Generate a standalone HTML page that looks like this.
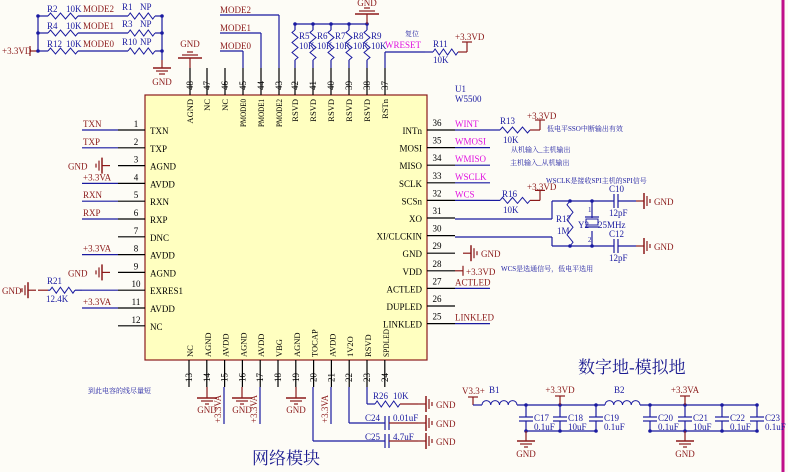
<!DOCTYPE html>
<html><head><meta charset="utf-8"><style>
html,body{margin:0;padding:0;background:#fdfcf6;}
svg{display:block;font-family:"Liberation Serif","Noto Serif CJK SC",serif;}
</style></head><body>
<svg id="s" width="788" height="472" viewBox="0 0 788 472" xmlns="http://www.w3.org/2000/svg">
<rect x="0" y="0" width="788" height="472" fill="#fdfcf6"/>
<line x1="783" y1="0" x2="783" y2="472" stroke="#c0108a" stroke-width="3"/>
<rect x="145" y="95" width="282" height="265" fill="#ffffc0" stroke="#8b1a1a" stroke-width="1.2"/>
<g id="g"></g>
</svg>
<script>
var g=document.getElementById('g'),h='';
var B='#1a1aa0',R='#8b1a1a',M='#e010e0',K='#000';
function L(x1,y1,x2,y2,c,w){h+='<line x1="'+x1+'" y1="'+y1+'" x2="'+x2+'" y2="'+y2+'" stroke="'+(c||B)+'" stroke-width="'+(w||1.2)+'"/>';}
function T(x,y,t,c,s,a,rot,tl){h+='<text x="'+x+'" y="'+y+'" fill="'+(c||B)+'" font-size="'+(s||9)+'"'+(a?' text-anchor="'+a+'"':'')+(tl?' textLength="'+tl+'" lengthAdjust="spacingAndGlyphs"':'')+(rot?' transform="rotate(-90 '+x+' '+y+')"':'')+'>'+t+'</text>';}
function ZH(x1,x2,y){var n=6,d=(x2-x1)/n,p='M'+x1+' '+y;for(var i=0;i<n;i++)p+=' L'+(x1+d*(i+.5))+' '+(y+(i%2?3:-3));p+=' L'+x2+' '+y;h+='<path d="'+p+'" fill="none" stroke="'+B+'" stroke-width="1"/>';}
function ZV(x,y1,y2){var n=6,d=(y2-y1)/n,p='M'+x+' '+y1;for(var i=0;i<n;i++)p+=' L'+(x+(i%2?3:-3))+' '+(y1+d*(i+.5));p+=' L'+x+' '+y2;h+='<path d="'+p+'" fill="none" stroke="'+B+'" stroke-width="1"/>';}
function D(x,y){h+='<circle cx="'+x+'" cy="'+y+'" r="1.8" fill="'+B+'"/>';}
function GD(x,y){L(x,y,x,y+8,R);L(x-9,y+8,x+9,y+8,R,1.5);L(x-6,y+11,x+6,y+11,R);L(x-3,y+14,x+3,y+14,R);T(x,y+25,'GND',R,9,'middle');}
function GU(x,y){L(x,y,x,y-10,R);L(x-12,y-10,x+12,y-10,R,1.5);L(x-8,y-13,x+8,y-13,R);L(x-3,y-16,x+3,y-16,R);}
function GR(x,y,txt){L(x,y,x+8,y,R);L(x+8,y-8,x+8,y+8,R,1.5);L(x+11,y-5,x+11,y+5,R);L(x+14,y-2,x+14,y+2,R);if(txt!==0)T(x+18,y+4,'GND',R,9);}
function GL(x,y,tx){L(x,y,x-8,y,R);L(x-8,y-8,x-8,y+8,R,1.5);L(x-11,y-5,x-11,y+5,R);L(x-14,y-2,x-14,y+2,R);T(tx!=null?tx:x-42,y+4,'GND',R,9);}
function PU(x,y,t){L(x,y,x,y-9,R);L(x-5,y-9,x+5,y-9,R);T(x,y-12,t,R,9,'middle');}
var lp=[['TXN','TXN',B],['TXP','TXP',B],['AGND','g'],['AVDD','+3.3VA',R],['RXN','RXN',B],['RXP','RXP',B],['DNC',''],['AVDD','+3.3VA',R],['AGND','g'],['EXRES1','e'],['AVDD','+3.3VA',R],['NC','']];
for(var i=0;i<12;i++){var y=130+i*17.8;L(118,y,145,y,K);T(136,y-3,i+1,K,9,'middle');T(150,y+4,lp[i][0],K,9);
 var n=lp[i][1];if(n=='g'){GL(110,y);}else if(n=='e'){L(82,y,118,y);}else if(n){L(82,y,118,y);T(83,y-3,n,R,9);}}
var y10=130+9*17.8;L(38,y10,48,y10,R);GL(36,y10,2);L(48,y10,50,y10);ZH(50,75,y10);L(75,y10,82,y10);T(47,y10-6,'R21',B,9);T(46,y10+12,'12.4K',B,9);
var rp=[['INTn','WINT',M],['MOSI','WMOSI',M],['MISO','WMISO',M],['SCLK','WSCLK',M],['SCSn','WCS',M],['XO','',0],['XI/CLCKIN','',0],['GND','g'],['VDD','v'],['ACTLED','ACTLED',R],['DUPLED','',1],['LINKLED','LINKLED',R]];
for(var i=0;i<12;i++){var y=130+i*17.6;L(427,y,455,y,K);T(437,y-4,36-i,K,9,'middle');T(422,y+4,rp[i][0],K,9,'end');
 var n=rp[i][1];if(n=='g'){GR(463,y);}else if(n=='v'){L(455,y,463,y,R);L(463,y-5,463,y+5,R);T(466,y+4,'+3.3VD',R,9);}else if(n){L(455,y,490,y);T(455,y-3,n,rp[i][2],9);}}
L(490,130,500,130);ZH(500,530,130);L(530,130,540,130,R);L(540,120,540,130,R);L(535,120,545,120,R);T(500,124,'R13');T(503,143,'10K');T(527,119,'+3.3VD',R,9);
T(547,131,'低电平SSO中断输出有效',B,7);T(511,152,'从机输入_主机输出',B,7);T(510,165,'主机输入_从机输出',B,7);T(546,183,'WSCLK是接收SPI主机的SPI信号',B,7);
var y32=130+4*17.6;L(490,y32,500,y32);ZH(500,530,y32);L(530,y32,540,y32,R);L(540,y32-10,540,y32,R);L(535,y32-10,545,y32-10,R);T(502,197,'R16');T(503,213,'10K');T(527,190,'+3.3VD',R,9);
T(501,271,'WCS是选通信号，低电平选用',B,7);
var yxo=219,yxi=237;L(455,yxo,552,yxo);L(552,yxo,552,201);L(455,yxi,552,yxi);L(552,yxi,552,246);L(552,201,612,201);L(552,246,612,246);
D(570,201);D(592,201);D(570,246);D(592,246);ZV(570,201,246);T(556,222,'R17');T(557,234,'1M');T(578,228,'Y2');
L(592,201,592,218);L(592,231,592,246);h+='<rect x="586" y="219" width="12" height="6" fill="none" stroke="'+B+'"/>';L(585,217,599,217);L(585,227,599,227);T(598,228,'25MHz');T(588,212,'1',B,7);T(588,242,'2',B,7);
[[201,'C10'],[246,'C12']].forEach(function(c){L(612,c[0],614,c[0]);L(614,c[0]-7,614,c[0]+7);L(618,c[0]-7,618,c[0]+7);L(618,c[0],636,c[0]);GR(636,c[0]);T(609,c[0]-9,c[1]);T(609,c[0]+15,'12pF');});
var tp=['AGND','NC','NC','PMODE0','PMODE1','PMODE2','RSVD','RSVD','RSVD','RSVD','RSVD','RSTn'];
var tx=[190,207,225,243,261,279,295,313,331,349,367,385];
for(var i=0;i<12;i++){var x=tx[i];L(x,68,x,95,K);T(x+3,90,48-i,K,9,null,1);var t=tp[i];T(x+3,99,t,K,8.5,'end',1,t.length>5?28:null);}
GU(190,68);T(190,47,'GND',R,9,'middle');
L(243,68,243,51);L(243,51,220,51);T(220,49,'MODE0',R,9);
L(261,68,261,33);L(261,33,220,33);T(220,31,'MODE1',R,9);
L(279,68,279,15);L(279,15,220,15);T(220,13,'MODE2',R,9);
L(295,24,367,24);for(var i=0;i<5;i++){var x=295+i*18;L(x,24,x,30);ZV(x,30,60);L(x,60,x,68);D(x,24);T(x+4,39,'R'+(5+i),B,9);T(x+4,49,'10K',B,9);}
GU(367,24);T(367,6,'GND',R,9,'middle');
L(385,68,385,52);L(385,52,425,52);T(385,48,'WRESET',M,9);T(405,36,'复位',B,7);L(425,52,433,52);ZH(433,458,52);L(458,52,467,52,R);L(467,52,467,42,R);L(462,42,472,42,R);T(455,40,'+3.3VD',R,9);T(433,47,'R11');T(433,63,'10K');
L(38,16,38,51);L(30,51,38,51,R);L(30,46,30,56,R);T(2,54,'+3.3VD',R,9);
var mr=[[16,'R2','MODE2','R1'],[33,'R4','MODE1','R3'],[51,'R12','MODE0','R10']];
mr.forEach(function(m){var y=m[0];L(38,y,48,y);ZH(48,78,y);L(78,y,128,y);ZH(128,155,y);L(155,y,162,y);T(47,y-4,m[1]);T(66,y-4,'10K');T(83,y-4,m[2],R,9);T(122,y-6,m[3]);T(140,y-6,'NP');D(38,y);D(162,y);});
L(162,16,162,60);GD(162,60);
var bp=['NC','AGND','AVDD','AGND','AVDD','VBG','AGND','TOCAP','AVDD','1V2O','RSVD','SPDLED'];
for(var i=0;i<12;i++){var x=189+i*17.8;L(x,360,x,387,K);T(x+3,382,13+i,K,9,null,1);var t=bp[i];T(x+4,357,t,K,8.5,null,1,t.length>5?28:null);}
[207,242,296].forEach(function(x){L(x,387,x,398,R);L(x-10,398,x+10,398,R,1.5);L(x-6,401,x+6,401,R);L(x-2,404,x+2,404,R);T(x,413,'GND',R,9,'middle');});
[224,260,331].forEach(function(x){L(x,387,x,424);T(x-3,423,'+3.3VA',R,9,null,1);});
L(367,387,367,404);L(367,404,375,404);ZH(375,400,404);L(400,404,418,404,R);GR(418,404);T(373,399,'R26');T(393,399,'10K');
L(349,387,349,423);L(349,423,385,423);L(385,416,385,430);L(389,416,389,430);L(389,423,418,423,R);GR(418,423);T(365,421,'C24');T(393,421,'0.01uF');
L(313,387,313,441);L(313,441,385,441);L(385,434,385,448);L(389,434,389,448);L(389,441,418,441,R);GR(418,441);T(365,440,'C25');T(393,440,'4.7uF');
T(252,464,'网络模块','#1a1a90',17);
T(88,393,'到此电容的线尽量短',B,7);
T(578,373,'数字地-模拟地','#1a1a90',17);
L(473,397,473,405,R);L(468,397,478,397,R);T(462,394,'V3.3+',R,9);L(473,405,482,405);
function IND(x1,x2,y){var n=4,d=(x2-x1)/n,p='M'+x1+' '+y;for(var i=0;i<n;i++)p+=' a'+d/2+' '+d/2+' 0 0 1 '+d+' 0';h+='<path d="'+p+'" fill="none" stroke="'+B+'" stroke-width="1"/>';}
IND(482,517,405);T(489,393,'B1');IND(605,640,405);T(614,393,'B2');
L(517,405,605,405);L(640,405,757,405);L(526,431,596,431);L(650,431,757,431);
var cs=[[526,'C17','0.1uF'],[560,'C18','10uF'],[596,'C19','0.1uF'],[650,'C20','0.1uF'],[685,'C21','10uF'],[722,'C22','0.1uF'],[757,'C23','0.1uF']];
cs.forEach(function(c){var x=c[0];L(x,405,x,417);L(x-7,417,x+7,417);L(x-7,421,x+7,421);L(x,421,x,431);D(x,405);D(x,431);T(x+8,421,c[1],B,9);T(x+8,430,c[2],B,9);});
PU(560,405,'+3.3VD');PU(685,405,'+3.3VA');
[526,685].forEach(function(x){L(x,431,x,441,R);L(x-9,441,x+9,441,R,1.5);L(x-6,444,x+6,444,R);L(x-2,447,x+2,447,R);T(x,457,'GND',R,9,'middle');});
T(455,92,'U1',B,9);T(455,102,'W5500',B,9);
g.innerHTML=h;
</script>
</body></html>
